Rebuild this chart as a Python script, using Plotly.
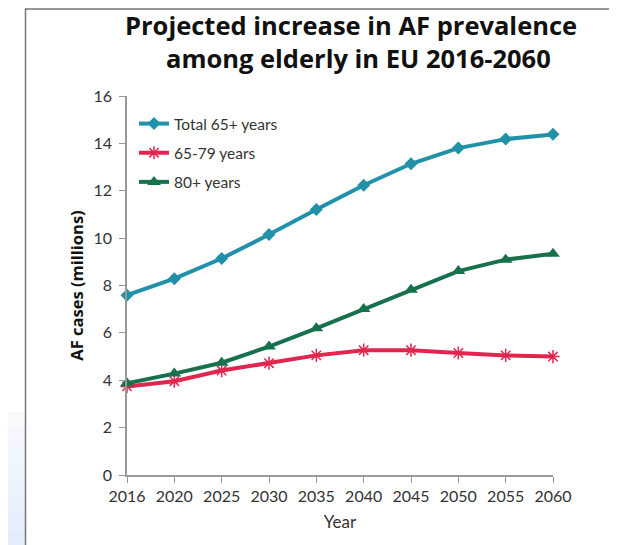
import plotly.graph_objects as go

years = ["2016", "2020", "2025", "2030", "2035", "2040", "2045", "2050", "2055", "2060"]
total_65plus = [7.59, 8.29, 9.14, 10.15, 11.21, 12.23, 13.14, 13.80, 14.18, 14.38]
age_65_79 = [3.74, 3.96, 4.41, 4.72, 5.05, 5.27, 5.27, 5.15, 5.05, 5.00]
age_80plus = [3.87, 4.28, 4.74, 5.42, 6.19, 7.01, 7.82, 8.61, 9.09, 9.34]

series_names = ["Total 65+ years", "65-79 years", "80+ years"]
y_ticks = [0, 2, 4, 6, 8, 10, 12, 14, 16]
title_lines = ["Projected increase in AF prevalence", "among elderly in EU 2016-2060"]

# page is 617x545, the html body adds an 8px margin
OFF = 8
PAGE_W, PAGE_H = 617, 545
X0, X1, Y0, Y1 = 127, 553, 96, 475  # plot area in page pixels
W, H = PAGE_W - OFF, PAGE_H - OFF
L, R, T, B = X0 - OFF, PAGE_W - X1, Y0 - OFF, PAGE_H - Y1
pw, ph = X1 - X0, Y1 - Y0

def px(xp):
    return (xp - X0) / pw

def py(yp):
    return (Y1 - yp) / ph

fig = go.Figure()
fig.add_trace(go.Scatter(
    x=years, y=total_65plus, name=series_names[0], mode="lines+markers",
    line=dict(color="#2191aa", width=4),
    marker=dict(symbol="diamond", size=10, color="#2191aa"),
    legendgroup="a", cliponaxis=False))
fig.add_trace(go.Scatter(
    x=years, y=age_65_79, name=series_names[1], mode="lines+markers",
    line=dict(color="#e0264f", width=4),
    marker=dict(symbol="asterisk-open", size=11, color="#e0264f",
                line=dict(color="#e0264f", width=1.5)),
    legendgroup="b", cliponaxis=False))
fig.add_trace(go.Scatter(
    x=years, y=age_80plus, name=series_names[2], mode="lines+markers",
    line=dict(color="#17714c", width=4),
    marker=dict(symbol="triangle-up", size=12, color="#17714c"),
    legendgroup="c", cliponaxis=False))

tick_font = dict(family="Lato, Open Sans, sans-serif", size=16, color="#333333")

fig.update_layout(
    width=W, height=H,
    margin=dict(l=L, r=R, t=T, b=B, autoexpand=False),
    paper_bgcolor="white", plot_bgcolor="white",
    showlegend=True,
    legend=dict(
        x=px(134), y=py(107), xanchor="left", yanchor="top",
        bgcolor="rgba(0,0,0,0)", tracegroupgap=6,
        font=dict(family="Lato, Open Sans, sans-serif", size=15.5, color="#333333"),
    ),
    xaxis=dict(
        type="category", range=[0, 9], showgrid=False, zeroline=False,
        showline=True, linecolor="#999999", linewidth=1.5,
        ticks="outside", ticklen=6, tickcolor="#999999",
        tickfont=tick_font,
        title=dict(text="Year", font=dict(family="Lato, Open Sans, sans-serif", size=17, color="#333333"),
                   standoff=12),
    ),
    yaxis=dict(
        range=[0, 16], tickvals=y_ticks, showgrid=False, zeroline=False,
        showline=True, linecolor="#999999", linewidth=1.5,
        ticks="outside", ticklen=6, tickcolor="#999999",
        tickfont=tick_font, ticklabelstandoff=4,
        title=dict(text="AF cases (millions)",
                   font=dict(family="Open Sans, sans-serif", size=16.5, color="#111111", weight="bold"),
                   standoff=6),
    ),
)

# title as two centred lines
for txt, cx, cy in [(title_lines[0], 351, 25), (title_lines[1], 358, 58)]:
    fig.add_annotation(text=txt, xref="paper", yref="paper", x=px(cx), y=py(cy),
                       xanchor="center", yanchor="middle", showarrow=False,
                       font=dict(family="Open Sans, sans-serif", size=25.5, color="#111111", weight="bold"))

# page decorations: light blue gradient strip and frame lines
bands = 8
for i in range(bands):
    ya = 545 - (133 * (i + 1) / bands)
    yb = 545 - (133 * i / bands)
    fig.add_shape(type="rect", xref="paper", yref="paper",
                  x0=px(0), x1=px(25), y0=py(yb), y1=py(ya),
                  fillcolor="rgb(%d,%d,%d)" % (226 + i * 3, 236 + i * 2, min(255, 250 + i // 2)),
                  line=dict(width=0), layer="below")
fig.add_shape(type="line", xref="paper", yref="paper",
              x0=px(25.5), x1=px(25.5), y0=py(8.5), y1=py(545),
              line=dict(color="#777777", width=1.5))
fig.add_shape(type="line", xref="paper", yref="paper",
              x0=px(25.5), x1=px(617), y0=py(9), y1=py(9),
              line=dict(color="#333333", width=1.2))

fig.write_html("out.html")
